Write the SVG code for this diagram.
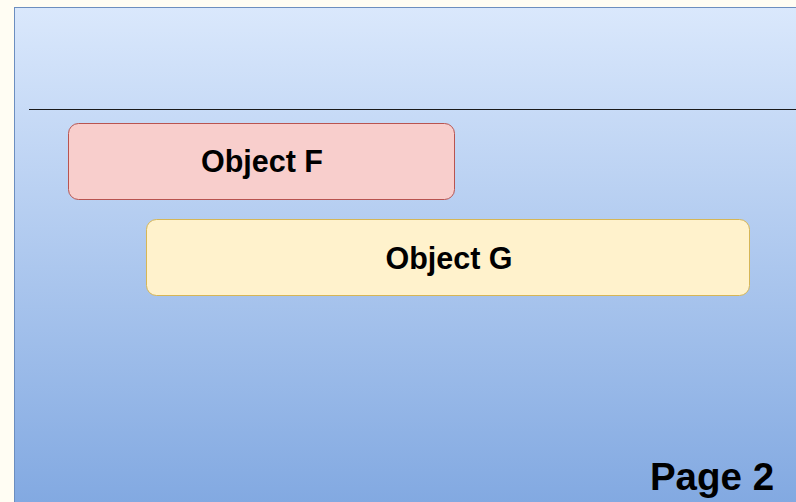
<svg xmlns="http://www.w3.org/2000/svg" width="796" height="502" viewBox="0 0 796 502">
  <defs>
    <linearGradient id="bg" x1="0" y1="0" x2="0" y2="1">
      <stop offset="0" stop-color="#dae8fc"/>
      <stop offset="1" stop-color="#7ea6e0"/>
    </linearGradient>
    <style>
      .lbl { font-family: "Liberation Sans", Arial, sans-serif; font-weight: bold; fill: #000; text-anchor: middle; }
    </style>
  </defs>
  <rect x="0" y="0" width="796" height="502" fill="#fffdf3"/>
  <g id="page">
    <rect x="14.5" y="7.5" width="800" height="520" fill="url(#bg)" stroke="#6c8ebf" stroke-width="1"/>
    <line x1="29" y1="109.5" x2="796" y2="109.5" stroke="#1a1a1a" stroke-width="1.2"/>
    <text class="lbl" x="712" y="490" font-size="38.5">Page 2</text>
  </g>
  <g id="objectF">
    <rect x="68.5" y="123.5" width="386" height="76" rx="10" fill="#f8cecc" stroke="#b85450"/>
    <text class="lbl" x="262" y="172" font-size="30.5">Object F</text>
  </g>
  <g id="objectG">
    <rect x="146.5" y="219.5" width="603" height="76" rx="10" fill="#fff2cc" stroke="#d6b656"/>
    <text class="lbl" x="449" y="269" font-size="30.5">Object G</text>
  </g>
  <g id="connectors"/>
</svg>
